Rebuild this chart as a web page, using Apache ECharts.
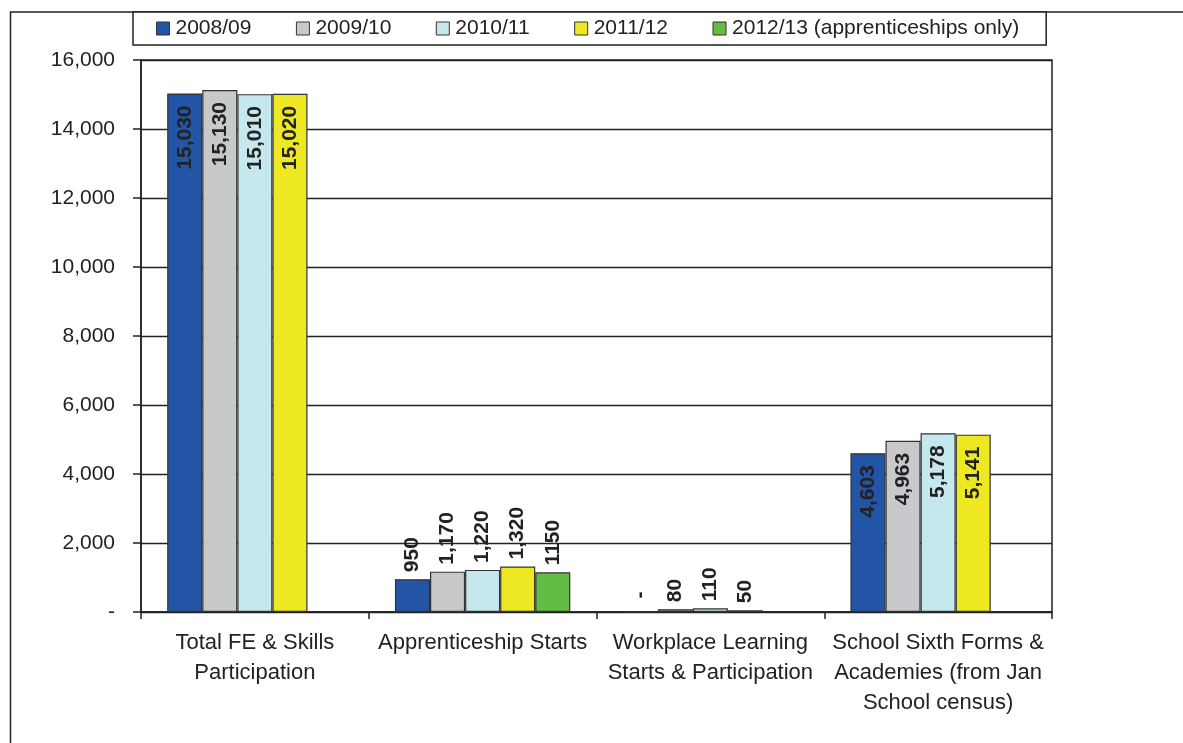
<!DOCTYPE html>
<html>
<head>
<meta charset="utf-8">
<script src="https://cdn.jsdelivr.net/npm/echarts@6/dist/echarts.min.js"></script>
<style>
html, body { margin: 0; padding: 0; background: #fff; }
#chart { width: 1183px; height: 743px; }
</style>
</head>
<body>
<div id="chart"></div>
<script>
const categories = [
  'Total FE & Skills\nParticipation',
  'Apprenticeship Starts',
  'Workplace Learning\nStarts & Participation',
  'School Sixth Forms &\nAcademies (from Jan\nSchool census)'
]
const seriesNames = ['2008/09', '2009/10', '2010/11', '2011/12', '2012/13 (apprenticeships only)']
const values0809 = [15030, 950, 0, 4603]
const values0910 = [15130, 1170, 80, 4963]
const values1011 = [15010, 1220, 110, 5178]
const values1112 = [15020, 1320, 50, 5141]
const values1213 = [null, 1150, null, null]
const yTicks = [0, 2000, 4000, 6000, 8000, 10000, 12000, 14000, 16000]

const colors = ['#2255a5', '#c8c9cb', '#c5e8ee', '#eee822', '#63bd45']
// categories with labels inside the bar top, the rest sit above
const insideCats = [0, 3]
const font = "'Liberation Sans', Arial, sans-serif"
const ink = '#222'

const fmt = (v, plain) => {
  if (v === 0) return ' -'
  return plain ? String(v) : v.toLocaleString('en-US')
}

const buildSeries = (name, values, idx) => ({
  name,
  type: 'bar',
  barGap: '0%',
  barCategoryGap: '23%',
  itemStyle: { color: colors[idx], borderColor: '#333', borderWidth: 1.2 },
  data: values.map((v, i) => {
    const inside = insideCats.indexOf(i) !== -1
    return {
      value: v,
      label: {
        show: v !== null,
        rotate: 90,
        position: inside ? 'insideTop' : 'top',
        align: inside ? 'right' : 'left',
        verticalAlign: 'middle',
        distance: inside ? 12 : 7,
        fontFamily: font,
        fontWeight: 'bold',
        fontSize: 21,
        color: ink,
        formatter: () => fmt(v, idx === 4)
      }
    }
  })
})

const chart = echarts.init(document.getElementById('chart'))
chart.setOption({
  animation: false,
  textStyle: { fontFamily: font },
  graphic: [{
    type: 'polyline',
    shape: { points: [[1183, 12], [10.5, 12], [10.5, 743]] },
    style: { stroke: ink, lineWidth: 1.5, fill: null }
  }],
  legend: {
    left: 133,
    top: 12,
    itemWidth: 13,
    itemHeight: 13,
    itemGap: 44.5,
    padding: [6, 27, 6, 23],
    borderColor: ink,
    borderWidth: 1.5,
    backgroundColor: '#fff',
    icon: 'rect',
    itemStyle: { borderColor: '#333', borderWidth: 1 },
    textStyle: { fontSize: 21, color: ink, fontFamily: font, padding: [0, 0, 0, 1] },
    data: seriesNames
  },
  grid: {
    left: 141,
    top: 60,
    right: 131,
    bottom: 131,
    show: true,
    borderColor: ink,
    borderWidth: 1.5
  },
  xAxis: {
    type: 'category',
    data: categories,
    axisLine: { lineStyle: { color: ink, width: 1.5 } },
    axisTick: { show: true, length: 7, lineStyle: { color: ink, width: 1.5 } },
    axisLabel: {
      interval: 0,
      margin: 16,
      fontSize: 22,
      lineHeight: 30,
      color: ink,
      fontFamily: font
    }
  },
  yAxis: {
    type: 'value',
    min: yTicks[0],
    max: yTicks[yTicks.length - 1],
    interval: yTicks[1] - yTicks[0],
    axisLine: { show: true, lineStyle: { color: ink, width: 1.5 } },
    axisTick: { show: true, length: 8, lineStyle: { color: ink, width: 1.5 } },
    splitLine: { lineStyle: { color: ink, width: 1.3 } },
    axisLabel: {
      margin: 26,
      fontSize: 21,
      color: ink,
      fontFamily: font,
      formatter: v => (v === 0 ? '-' : v.toLocaleString('en-US'))
    }
  },
  series: [
    buildSeries(seriesNames[0], values0809, 0),
    buildSeries(seriesNames[1], values0910, 1),
    buildSeries(seriesNames[2], values1011, 2),
    buildSeries(seriesNames[3], values1112, 3),
    buildSeries(seriesNames[4], values1213, 4)
  ]
})
</script>
</body>
</html>
